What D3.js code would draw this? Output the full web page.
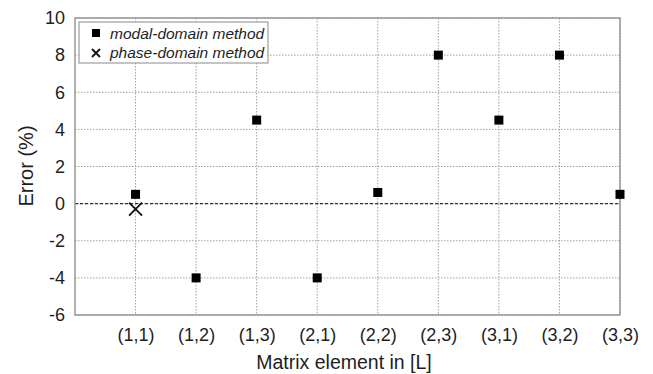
<!DOCTYPE html>
<html>
<head>
<meta charset="utf-8">
<script src="https://cdn.jsdelivr.net/npm/d3@7"></script>
<style>
  body { margin: 0; background: #fff; }
  text { font-family: "Liberation Sans", Arial, sans-serif; fill: #1e1e1e; }
  .grid line { stroke: #a0a0a0; stroke-width: 1; stroke-dasharray: 1.5 1.5; }
</style>
</head>
<body>
<svg id="chart" width="653" height="374"></svg>
<script>
var categories = ["(1,1)", "(1,2)", "(1,3)", "(2,1)", "(2,2)", "(2,3)", "(3,1)", "(3,2)", "(3,3)"];
var modalValues = [0.5, -4, 4.5, -4, 0.6, 8, 4.5, 8, 0.5];
var phaseCategories = ["(1,1)"];
var phaseValues = [-0.3];
var yTicks = [-6, -4, -2, 0, 2, 4, 6, 8, 10];

var svg = d3.select('#chart');
var padLeft = 75, padRight = 620, padTop = 18, padBottom = 315;

var xScale = d3.scaleLinear().domain([0, categories.length]).range([padLeft, padRight]);
var yScale = d3.scaleLinear().domain([-6, 10]).range([padBottom, padTop]);
function xPos(c) { return xScale(categories.indexOf(c) + 1); }

// grid
var grid = svg.append("g").attr("class", "grid");
grid.selectAll("line.h").data(yTicks).enter().append("line")
    .attr("x1", padLeft).attr("x2", padRight)
    .attr("y1", function(d) { return yScale(d); })
    .attr("y2", function(d) { return yScale(d); });
grid.selectAll("line.v").data(categories).enter().append("line")
    .attr("x1", function(d) { return xPos(d); })
    .attr("x2", function(d) { return xPos(d); })
    .attr("y1", padTop).attr("y2", padBottom);

// zero reference line
svg.append("line")
    .attr("x1", padLeft).attr("x2", padRight)
    .attr("y1", yScale(0)).attr("y2", yScale(0))
    .attr("stroke", "#333").attr("stroke-width", 1.3).attr("stroke-dasharray", "3 2");

// axes
var yAxis = d3.axisLeft(yScale).tickValues(yTicks).tickSize(0).tickPadding(10)
    .tickFormat(function(d) { return String(d); });
var gy = svg.append("g").attr("transform", "translate(" + padLeft + ",0)").call(yAxis);
gy.select(".domain").remove();
gy.attr("font-family", null).attr("font-size", null);
gy.selectAll("text").style("font-size", "18px");

var xAxis = d3.axisBottom(xScale).tickValues(d3.range(1, categories.length + 1))
    .tickFormat(function(d) { return categories[d - 1]; }).tickSize(0).tickPadding(13);
var gx = svg.append("g").attr("transform", "translate(0," + padBottom + ")").call(xAxis);
gx.select(".domain").remove();
gx.attr("font-family", null).attr("font-size", null);
gx.selectAll("text").style("font-size", "18px");

// frame
svg.append("rect").attr("x", padLeft).attr("y", padTop)
    .attr("width", padRight - padLeft).attr("height", padBottom - padTop)
    .attr("fill", "none").attr("stroke", "#8a8a8a").attr("stroke-width", 1.3);

// modal-domain squares
var sq = 9;
svg.selectAll("rect.modal").data(modalValues).enter().append("rect")
    .attr("class", "modal")
    .attr("x", function(d, i) { return xScale(i + 1) - sq / 2; })
    .attr("y", function(d) { return yScale(d) - sq / 2; })
    .attr("width", sq).attr("height", sq).attr("fill", "#000");

// phase-domain crosses
var cr = 6.5;
phaseValues.forEach(function(v, i) {
  var cx = xPos(phaseCategories[i]), cy = yScale(v);
  svg.append("path")
      .attr("d", "M" + (cx - cr) + "," + (cy - cr) + "L" + (cx + cr) + "," + (cy + cr) +
                 "M" + (cx - cr) + "," + (cy + cr) + "L" + (cx + cr) + "," + (cy - cr))
      .attr("stroke", "#111").attr("stroke-width", 1.8).attr("fill", "none");
});

// labels
svg.append("text").attr("x", 344).attr("y", 369)
    .attr("text-anchor", "middle").style("font-size", "19.5px").text("Matrix element in [L]");
svg.append("text").attr("transform", "translate(33,166) rotate(-90)")
    .attr("text-anchor", "middle").style("font-size", "20px").text("Error (%)");

// legend
var lg = svg.append("g");
lg.append("rect").attr("x", 79).attr("y", 22).attr("width", 189).attr("height", 41)
    .attr("fill", "#fff").attr("stroke", "#8a8a8a").attr("stroke-width", 1);
lg.append("rect").attr("x", 92).attr("y", 29).attr("width", 8).attr("height", 8).attr("fill", "#000");
lg.append("path").attr("d", "M92,49L100,57M92,57L100,49").attr("stroke", "#111").attr("stroke-width", 1.8);
lg.append("text").attr("x", 110).attr("y", 38.5).style("font-size", "15.5px").style("font-style", "italic").text("modal-domain method");
lg.append("text").attr("x", 110).attr("y", 58).style("font-size", "15.5px").style("font-style", "italic").text("phase-domain method");
</script>
</body>
</html>
